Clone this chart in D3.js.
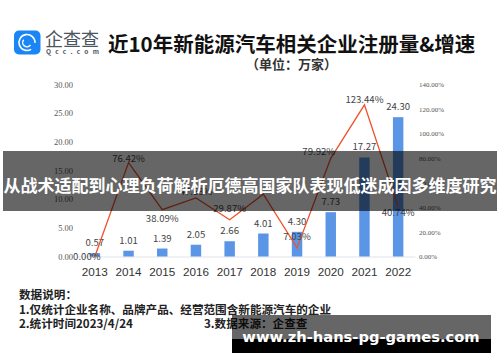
<!DOCTYPE html>
<html>
<head>
<meta charset="utf-8">
<script src="https://cdn.jsdelivr.net/npm/d3@7"></script>
<style>
  html, body { margin: 0; padding: 0; background: #fff; }
  svg { display: block; font-family: "Noto Sans CJK SC", sans-serif; }
</style>
</head>
<body>
<svg id="chart"></svg>
<script>
const years = ['2013', '2014', '2015', '2016', '2017', '2018', '2019', '2020', '2021', '2022'];
const counts = [0.57, 1.01, 1.39, 2.05, 2.66, 4.01, 4.30, 7.73, 17.27, 24.30];
const growth = [0, 76.42, 38.09, 47.63, 29.87, 50.75, 7.03, 79.92, 123.44, 40.74];
const growthLabels = ['0.00%', '76.42%', '38.09%', '47.63%', '29.87%', '', '7.03%', '79.92%', '123.44%', '40.74%'];
const leftTicks = [0, 5, 10, 15, 20, 25, 30];
const rightTicks = [0, 20, 40, 60, 80, 100, 120, 140];
const noteLines = ['数据说明：', '1.仅统计企业名称、品牌产品、经营范围含新能源汽车的企业', '2.统计时间2023/4/24'];

const svg = d3.select('#chart').attr('width', 500).attr('height', 362);

const x = d3.scaleBand().domain(years).range([78, 415]).paddingInner(0.69).paddingOuter(0.345);
const y = d3.scaleLinear().domain([0, 30]).range([256.5, 84.5]);
const yRight = d3.scaleLinear().domain([0, 140]).range([256.5, 84.5]);
const cx = d => x(d) + x.bandwidth() / 2;

// logo
const logo = svg.append('g');
logo.append('rect').attr('x', 14).attr('y', 30.5).attr('width', 26.5).attr('height', 24)
  .attr('rx', 5).attr('fill', '#1a85f5');
const ring = d3.arc();
logo.append('path').attr('transform', 'translate(27,42.5)')
  .attr('d', ring({ innerRadius: 7.2, outerRadius: 8.8, startAngle: 2.6, endAngle: 7.9 })).attr('fill', '#fff');
logo.append('path').attr('transform', 'translate(27,42.5)')
  .attr('d', ring({ innerRadius: 3.6, outerRadius: 5, startAngle: 2.2, endAngle: 5.4 })).attr('fill', '#fff');
logo.append('text').attr('x', 45).attr('y', 46).attr('font-size', 18)
  .attr('fill', '#4a5560').attr('textLength', 54).text('企查查');
logo.append('text').attr('x', 46).attr('y', 53.5).attr('font-size', 6.5)
  .attr('font-weight', 700).attr('fill', '#4a5560').attr('textLength', 53).text('Qcc.com');

// title
svg.append('text').attr('x', 108).attr('y', 52).attr('font-size', 20.5).attr('font-weight', 700)
  .attr('fill', '#111').text('近10年新能源汽车相关企业注册量&增速');
svg.append('text').attr('x', 246).attr('y', 69).attr('font-size', 13).attr('font-weight', 700)
  .attr('fill', '#333').text('（单位：万家）');

// axes
const axisLeft = svg.append('g').attr('transform', 'translate(73,0)')
  .call(d3.axisLeft(y).tickValues(leftTicks).tickSize(0).tickPadding(0).tickFormat(d3.format('.2f')));
axisLeft.select('.domain').remove();
axisLeft.selectAll('text').attr('font-family', 'Liberation Serif').attr('font-size', 8.5).attr('fill', '#555');

const axisRight = svg.append('g').attr('transform', 'translate(419,0)')
  .call(d3.axisRight(yRight).tickValues(rightTicks).tickSize(0).tickPadding(0).tickFormat(d => d.toFixed(2) + '%'));
axisRight.select('.domain').remove();
axisRight.selectAll('text').attr('font-family', 'Liberation Serif').attr('font-size', 7).attr('fill', '#555');

const axisBottom = svg.append('g').attr('transform', 'translate(0,256.5)')
  .call(d3.axisBottom(x).tickSize(0).tickPadding(11));
axisBottom.select('.domain').attr('stroke', '#dfe3e8');
axisBottom.selectAll('text').attr('font-size', 11.7).attr('fill', '#333');

// bars
svg.selectAll('rect.bar').data(years).join('rect').attr('class', 'bar')
  .attr('x', d => x(d)).attr('width', x.bandwidth())
  .attr('y', (d, i) => y(counts[i])).attr('height', (d, i) => y(0) - y(counts[i]))
  .attr('fill', '#5b96e6');

svg.selectAll('text.bar-label').data(years).join('text').attr('class', 'bar-label')
  .attr('x', cx).attr('y', (d, i) => y(counts[i]) - 7)
  .attr('text-anchor', 'middle').attr('font-size', 9.6).attr('fill', '#444')
  .text((d, i) => counts[i].toFixed(2));

// growth line
const line = d3.line().x((d, i) => cx(years[i])).y(d => yRight(d));
svg.append('path').datum(growth).attr('fill', 'none').attr('stroke', '#f0512b')
  .attr('stroke-width', 1.3).attr('d', line);

const labelNudge = [[-8, 3], [0, -1], [0, 12], [0, -3], [0, -8], [0, 0], [0, -8], [-12, -3], [0, -2], [0, 10]];
svg.selectAll('text.growth-label').data(years).join('text').attr('class', 'growth-label')
  .attr('x', (d, i) => cx(d) + labelNudge[i][0]).attr('y', (d, i) => yRight(growth[i]) + labelNudge[i][1])
  .attr('text-anchor', 'middle').attr('font-size', 9.6).attr('fill', '#444')
  .text((d, i) => growthLabels[i]);

// notes
svg.selectAll('text.note').data(noteLines).join('text').attr('class', 'note')
  .attr('x', 19).attr('y', (d, i) => 299 + i * 14.6)
  .attr('font-size', 11.6).attr('font-weight', 700).attr('fill', '#222').text(d => d);
svg.append('text').attr('x', 204).attr('y', 328.2).attr('font-size', 11.6).attr('font-weight', 700)
  .attr('fill', '#222').text('3.数据来源：企查查');

// banners over the chart
svg.append('rect').attr('x', 3).attr('y', 151).attr('width', 494).attr('height', 60)
  .attr('fill', '#000').attr('fill-opacity', 0.6);
svg.append('text').attr('x', 250).attr('y', 192).attr('text-anchor', 'middle')
  .attr('font-size', 17).attr('font-weight', 700).attr('fill', '#fff')
  .text('从战术适配到心理负荷解析厄德高国家队表现低迷成因多维度研究');

svg.append('rect').attr('x', 232).attr('y', 315).attr('width', 259).attr('height', 24)
  .attr('fill', '#000').attr('fill-opacity', 0.6);
svg.append('rect').attr('x', 232).attr('y', 339).attr('width', 259).attr('height', 14).attr('fill', '#000');
svg.append('text').attr('x', 361).attr('y', 342).attr('text-anchor', 'middle')
  .attr('font-family', 'DejaVu Sans').attr('font-size', 14.7).attr('font-weight', 700)
  .attr('fill', '#fff').text('www.zh-hans-pg-games.com');
</script>
</body>
</html>
